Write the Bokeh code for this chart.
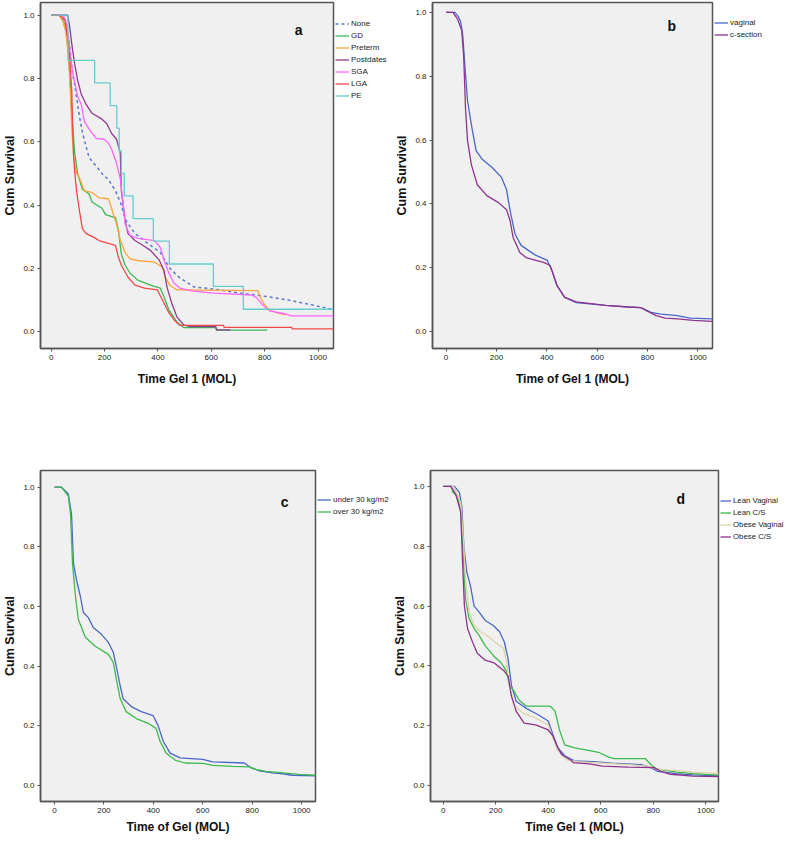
from bokeh.plotting import figure
from bokeh.layouts import column, row
from bokeh.models import Range1d, FixedTicker, PrintfTickFormatter, Legend, LegendItem, Label
from bokeh.embed import file_html
from bokeh.resources import INLINE

X_TICKS = [0, 200, 400, 600, 800, 1000]
Y_TICKS = [0.0, 0.2, 0.4, 0.6, 0.8, 1.0]

# ---------------- Panel a ----------------
a_none_t = [0, 30, 50, 65, 75, 80, 88, 106, 117, 142, 172, 190, 215, 241, 259, 281, 314, 361, 409, 445, 482, 507, 536, 609, 708, 792, 890, 975, 1058]
a_none_s = [1, 1, 0.98, 0.93, 0.86, 0.815, 0.78, 0.68, 0.63, 0.55, 0.52, 0.50, 0.48, 0.445, 0.41, 0.35, 0.31, 0.28, 0.25, 0.20, 0.17, 0.157, 0.141, 0.135, 0.122, 0.113, 0.10, 0.085, 0.07]

a_gd_t = [0, 30, 45, 55, 65, 72, 78, 88, 99, 117, 142, 153, 190, 204, 241, 252, 263, 277, 296, 325, 372, 409, 423, 441, 471, 496, 617, 619, 810]
a_gd_s = [1, 1, 0.98, 0.95, 0.88, 0.78, 0.68, 0.565, 0.50, 0.45, 0.435, 0.41, 0.39, 0.37, 0.36, 0.32, 0.245, 0.21, 0.185, 0.163, 0.147, 0.138, 0.11, 0.069, 0.031, 0.013, 0.013, 0.005, 0.005]

a_pre_t = [0, 30, 45, 55, 65, 72, 78, 85, 95, 106, 124, 153, 179, 215, 226, 245, 259, 277, 296, 325, 387, 416, 427, 445, 471, 489, 774, 792, 810, 843, 880]
a_pre_s = [1, 1, 0.98, 0.95, 0.87, 0.75, 0.63, 0.55, 0.50, 0.486, 0.445, 0.44, 0.423, 0.42, 0.39, 0.34, 0.29, 0.25, 0.23, 0.225, 0.22, 0.204, 0.172, 0.147, 0.132, 0.132, 0.13, 0.094, 0.075, 0.06, 0.053]

a_post_t = [0, 62, 70, 77, 88, 99, 113, 131, 153, 186, 208, 226, 245, 259, 263, 277, 288, 314, 343, 372, 405, 423, 434, 452, 471, 496, 520, 617, 620, 672]
a_post_s = [1, 1, 0.96, 0.91, 0.846, 0.795, 0.75, 0.718, 0.69, 0.674, 0.658, 0.627, 0.608, 0.564, 0.445, 0.35, 0.31, 0.288, 0.273, 0.257, 0.226, 0.194, 0.141, 0.09, 0.047, 0.022, 0.016, 0.016, 0.006, 0.006]

a_sga_t = [0, 45, 55, 65, 72, 80, 88, 99, 113, 124, 142, 168, 197, 215, 226, 245, 259, 270, 277, 296, 325, 387, 409, 423, 441, 460, 482, 526, 609, 752, 770, 792, 818, 880, 901, 1058]
a_sga_s = [1, 1, 0.98, 0.93, 0.87, 0.82, 0.79, 0.743, 0.718, 0.665, 0.64, 0.611, 0.608, 0.596, 0.577, 0.533, 0.483, 0.404, 0.34, 0.304, 0.295, 0.288, 0.266, 0.226, 0.185, 0.154, 0.138, 0.129, 0.122, 0.116, 0.107, 0.085, 0.066, 0.056, 0.05, 0.05]

a_lga_t = [0, 25, 40, 51, 62, 69, 77, 80, 84, 88, 95, 106, 117, 131, 161, 179, 215, 241, 252, 263, 288, 314, 350, 398, 423, 441, 460, 482, 646, 648, 901, 903, 1058]
a_lga_s = [1, 1, 0.995, 0.985, 0.93, 0.868, 0.765, 0.66, 0.555, 0.508, 0.445, 0.382, 0.326, 0.31, 0.298, 0.288, 0.279, 0.273, 0.235, 0.21, 0.172, 0.147, 0.138, 0.132, 0.09, 0.06, 0.038, 0.02, 0.02, 0.014, 0.014, 0.009, 0.009]

a_pe_t = [0, 63, 163, 221, 246, 255, 263, 274, 307, 383, 443, 608, 720, 1058]
a_pe_s = [1, 0.857, 0.786, 0.714, 0.643, 0.571, 0.5, 0.429, 0.357, 0.286, 0.214, 0.143, 0.071, 0.071]

a_labels = ["None", "GD", "Preterm", "Postdates", "SGA", "LGA", "PE"]
a_colors = ["#5B78CF", "#3DB855", "#FFA43A", "#8E3C8E", "#FF66FF", "#F04848", "#66CCCC"]

# ---------------- Panel b ----------------
b_vag_t = [0, 35, 50, 58, 66, 77, 85, 100, 119, 143, 183, 220, 240, 254, 274, 298, 351, 402, 421, 440, 471, 517, 633, 724, 773, 814, 853, 918, 969, 1058]
b_vag_s = [1, 1, 0.985, 0.97, 0.93, 0.806, 0.724, 0.65, 0.567, 0.54, 0.514, 0.483, 0.445, 0.38, 0.305, 0.27, 0.241, 0.223, 0.19, 0.145, 0.107, 0.091, 0.082, 0.077, 0.075, 0.06, 0.055, 0.05, 0.042, 0.04]
b_cs_t = [0, 27, 45, 62, 70, 77, 85, 100, 124, 162, 208, 240, 254, 266, 293, 317, 390, 413, 421, 440, 471, 517, 633, 724, 773, 834, 870, 920, 982, 1058]
b_cs_s = [1, 1, 0.98, 0.944, 0.86, 0.70, 0.6, 0.524, 0.46, 0.426, 0.404, 0.382, 0.348, 0.295, 0.248, 0.232, 0.216, 0.207, 0.19, 0.145, 0.107, 0.093, 0.082, 0.077, 0.075, 0.05, 0.042, 0.04, 0.035, 0.032]
b_labels = ["vaginal", "c-section"]
b_colors = ["#4A67C8", "#8E338E"]

# ---------------- Panel c ----------------
c_under_t = [0, 28, 56, 69, 77, 89, 105, 117, 137, 157, 190, 218, 238, 250, 266, 278, 311, 351, 399, 419, 440, 468, 508, 600, 640, 768, 795, 828, 882, 922, 962, 1058]
c_under_s = [1, 1, 0.977, 0.91, 0.745, 0.69, 0.633, 0.58, 0.563, 0.53, 0.507, 0.48, 0.447, 0.40, 0.334, 0.291, 0.265, 0.248, 0.235, 0.202, 0.149, 0.109, 0.093, 0.088, 0.08, 0.076, 0.06, 0.05, 0.043, 0.04, 0.035, 0.033]
c_over_t = [0, 28, 56, 65, 73, 85, 97, 125, 165, 218, 238, 250, 266, 290, 331, 379, 411, 427, 452, 488, 528, 600, 640, 720, 788, 815, 855, 936, 990, 1058]
c_over_s = [1, 1, 0.97, 0.91, 0.745, 0.633, 0.556, 0.497, 0.467, 0.44, 0.413, 0.358, 0.291, 0.248, 0.225, 0.209, 0.192, 0.149, 0.109, 0.086, 0.076, 0.075, 0.068, 0.065, 0.063, 0.055, 0.048, 0.042, 0.038, 0.035]
c_labels = ["under 30 kg/m2", "over 30 kg/m2"]
c_colors = ["#4A67C8", "#3DBB4E"]

# ---------------- Panel d ----------------
d_lv_t = [0, 43, 62, 71, 79, 90, 104, 118, 137, 160, 191, 215, 233, 247, 260, 278, 315, 363, 400, 418, 437, 463, 500, 569, 643, 754, 791, 815, 889, 951, 1058]
d_lv_s = [1, 1, 0.98, 0.934, 0.80, 0.714, 0.668, 0.60, 0.58, 0.552, 0.535, 0.514, 0.48, 0.425, 0.336, 0.282, 0.259, 0.236, 0.216, 0.17, 0.126, 0.10, 0.083, 0.08, 0.075, 0.07, 0.06, 0.048, 0.04, 0.036, 0.032]
d_lc_t = [0, 30, 37, 55, 67, 78, 85, 99, 118, 137, 160, 191, 222, 241, 252, 270, 289, 315, 407, 426, 444, 463, 500, 563, 595, 631, 650, 770, 791, 815, 889, 951, 1058]
d_lc_s = [1, 1, 0.98, 0.967, 0.914, 0.748, 0.625, 0.558, 0.525, 0.502, 0.468, 0.435, 0.409, 0.382, 0.336, 0.316, 0.286, 0.266, 0.266, 0.249, 0.183, 0.136, 0.126, 0.116, 0.11, 0.095, 0.09, 0.09, 0.07, 0.055, 0.045, 0.04, 0.035]
d_ov_t = [0, 38, 43, 67, 79, 85, 99, 118, 141, 173, 204, 230, 241, 252, 270, 304, 352, 400, 418, 437, 470, 511, 606, 704, 778, 815, 889, 951, 1058]
d_ov_s = [1, 1, 0.995, 0.945, 0.80, 0.69, 0.58, 0.535, 0.514, 0.498, 0.475, 0.458, 0.415, 0.336, 0.27, 0.242, 0.226, 0.203, 0.159, 0.116, 0.086, 0.08, 0.075, 0.07, 0.065, 0.055, 0.05, 0.045, 0.04]
d_oc_t = [0, 30, 48, 67, 74, 81, 93, 111, 130, 160, 196, 230, 248, 259, 278, 308, 352, 400, 418, 433, 452, 489, 495, 557, 606, 704, 803, 828, 865, 951, 1058]
d_oc_s = [1, 1, 0.973, 0.914, 0.748, 0.601, 0.525, 0.482, 0.442, 0.419, 0.409, 0.385, 0.365, 0.302, 0.249, 0.209, 0.203, 0.186, 0.166, 0.133, 0.103, 0.083, 0.077, 0.073, 0.065, 0.062, 0.06, 0.048, 0.038, 0.032, 0.03]
d_labels = ["Lean Vaginal", "Lean C/S", "Obese Vaginal", "Obese C/S"]
d_colors = ["#4A67C8", "#3DBB4E", "#DDD4A6", "#8E338E"]

FONT = "Liberation Sans"
LW = 1.3


def make_fig(w, h, bl, bt, fw, fh, xr, yr, xlabel, xstand):
    p = figure(width=w, height=h,
               x_range=Range1d(*xr), y_range=Range1d(*yr),
               output_backend="svg", toolbar_location=None,
               min_border_left=bl, min_border_top=bt,
               min_border_right=w - bl - fw, min_border_bottom=h - bt - fh,
               background_fill_color="#F0F0F0", border_fill_color="white",
               outline_line_color="#555555", outline_line_width=1.5)
    p.grid.visible = False
    p.xaxis.ticker = FixedTicker(ticks=X_TICKS)
    p.yaxis.ticker = FixedTicker(ticks=Y_TICKS)
    p.yaxis.formatter = PrintfTickFormatter(format="%.1f")
    for ax in (p.xaxis[0], p.yaxis[0]):
        ax.axis_line_color = "#555555"
        ax.axis_line_width = 1.5
        ax.major_tick_line_color = "#555555"
        ax.major_tick_out = 3
        ax.major_tick_in = 0
        ax.minor_tick_line_color = None
        ax.major_label_text_font = FONT
        ax.major_label_text_font_size = "8px"
        ax.major_label_text_color = "#222222"
        ax.major_label_standoff = 3
        ax.axis_label_text_font = FONT
        ax.axis_label_text_font_style = "bold"
        ax.axis_label_text_color = "#111111"
    p.xaxis.axis_label = xlabel
    p.xaxis.axis_label_text_font_size = "12px"
    p.xaxis.axis_label_standoff = xstand
    p.yaxis.axis_label = "Cum Survival"
    p.yaxis.axis_label_text_font_size = "12.5px"
    p.yaxis.axis_label_standoff = 3
    return p


def legend_fig(w, h, bt, bb, gap, labels, colors, series, gw=14, fs="8px", pad=1, dashed=(), stepped=()):
    # side figure that only carries the legend; its curves lie outside its (empty) view.
    # Its frame matches the plot frame; a blank title sets the gap above the items.
    lf = figure(width=w, height=h, output_backend="svg", toolbar_location=None,
                x_axis_location=None, y_axis_location=None,
                x_range=Range1d(-3, -2), y_range=Range1d(-3, -2),
                min_border_left=0, min_border_right=0, min_border_bottom=bb,
                min_border_top=bt, outline_line_color=None,
                background_fill_color="white", border_fill_color="white")
    lf.grid.visible = False
    items = []
    for i, (lab, col, (tt, ss)) in enumerate(zip(labels, colors, series)):
        if i in stepped:
            r = lf.step(tt, ss, mode="after", line_color=col, line_width=LW)
        elif i in dashed:
            r = lf.line(tt, ss, line_color=col, line_width=1.5, line_dash="3 3")
        else:
            r = lf.line(tt, ss, line_color=col, line_width=LW)
        items.append(LegendItem(label=lab, renderers=[r]))
    leg = Legend(items=items, location="top_left", orientation="vertical",
                 title=" ", title_text_font_size="10px", title_standoff=int(gap),
                 background_fill_alpha=0, border_line_color=None,
                 label_text_font=FONT, label_text_font_size=fs, label_text_color="#222222",
                 glyph_width=gw, glyph_height=9, label_height=9, spacing=3,
                 padding=pad, margin=0, label_standoff=2)
    lf.add_layout(leg)
    return lf


def add_tag(p, x, y, txt):
    p.add_layout(Label(x=x, y=y, text=txt, text_font=FONT, text_font_style="bold",
                       text_font_size="14px", text_align="center", text_baseline="middle",
                       text_color="#111111"))


# Panel a: frame x 40..341, y 10..359
a_series = [(a_none_t, a_none_s), (a_gd_t, a_gd_s), (a_pre_t, a_pre_s), (a_post_t, a_post_s),
            (a_sga_t, a_sga_s), (a_lga_t, a_lga_s), (a_pe_t, a_pe_s)]
pa = make_fig(335, 420, 32, 2, 301, 349, (-40, 1058), (-0.053, 1.040), "Time Gel 1 (MOL)", 9)
for i, ((tt, ss), col) in enumerate(zip(a_series, a_colors)):
    if i == 0:
        pa.line(tt, ss, line_color=col, line_width=1.5, line_dash="3 3")
    elif i == 6:
        pa.step(tt, ss, mode="after", line_color=col, line_width=LW)
    else:
        pa.line(tt, ss, line_color=col, line_width=LW)
add_tag(pa, 927, 0.953, "a")
la = legend_fig(57, 420, 2, 69, 6, a_labels, a_colors, a_series, dashed=(0,), stepped=(6,))

# Panel b: frame x 432..720, y 10..356
b_series = [(b_vag_t, b_vag_s), (b_cs_t, b_cs_s)]
pb = make_fig(322, 420, 32, 2, 288, 346, (-54, 1058), (-0.053, 1.031), "Time of Gel 1 (MOL)", 9)
for (tt, ss), col in zip(b_series, b_colors):
    pb.line(tt, ss, line_color=col, line_width=LW)
add_tag(pb, 896, 0.956, "b")
lb = legend_fig(70, 420, 2, 72, 5, b_labels, b_colors, b_series)

# Panel c: frame x 47..323, y 476..811
c_series = [(c_under_t, c_under_s), (c_over_t, c_over_s)]
pc = make_fig(317, 416, 39, 48, 276, 335, (-56.5, 1056), (-0.053, 1.056), "Time of Gel (MOL)", 4)
for (tt, ss), col in zip(c_series, c_colors):
    pc.line(tt, ss, line_color=col, line_width=LW)
add_tag(pc, 931, 0.95, "c")
lc = legend_fig(73, 416, 48, 33, 14, c_labels, c_colors, c_series)

# Panel d: frame x 430..726, y 478..811
d_series = [(d_lv_t, d_lv_s), (d_lc_t, d_lc_s), (d_ov_t, d_ov_s), (d_oc_t, d_oc_s)]
pd_ = make_fig(330, 416, 32, 50, 296, 333, (-48, 1048), (-0.053, 1.053), "Time Gel 1 (MOL)", 4)
for (tt, ss), col in zip(d_series, d_colors):
    pd_.line(tt, ss, line_color=col, line_width=LW)
add_tag(pd_, 904, 0.957, "d")
ld = legend_fig(64, 416, 50, 33, 15, d_labels, d_colors, d_series, gw=11, fs="7.8px", pad=0)

layout = column(row(pa, la, pb, lb), row(pc, lc, pd_, ld))
open("out.html", "w").write(file_html(layout, INLINE))
